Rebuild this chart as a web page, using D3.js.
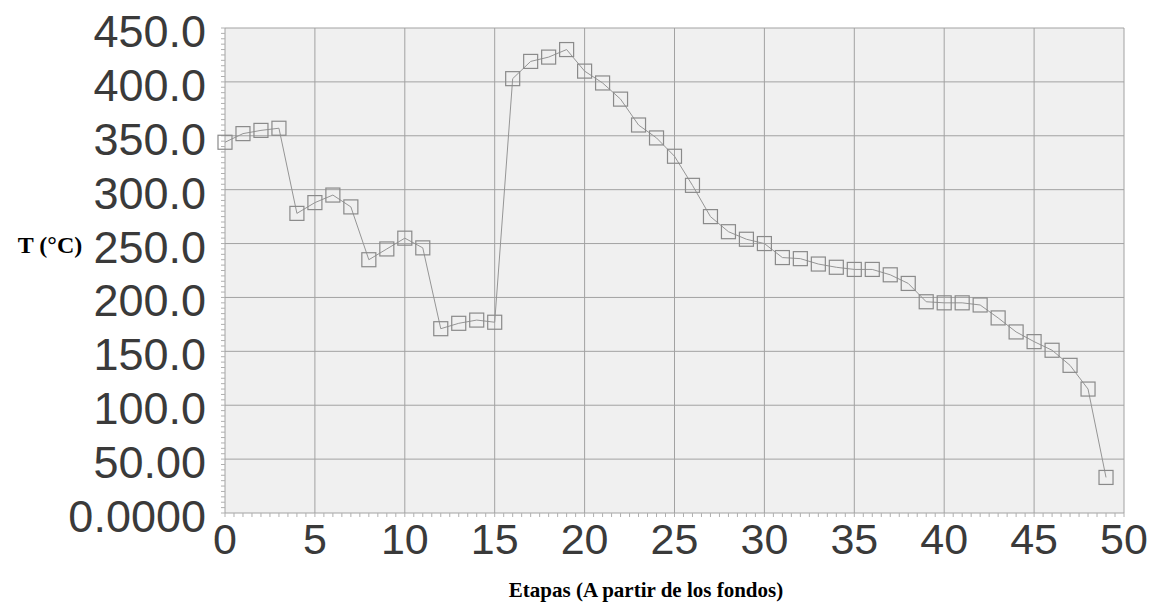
<!DOCTYPE html>
<html>
<head>
<meta charset="utf-8">
<script src="https://cdn.jsdelivr.net/npm/d3@7"></script>
<style>
  body { margin: 0; background: #fff; }
  svg { display: block; }
</style>
</head>
<body>
<div id="chart"></div>
<script>
// Temperature profile along the column stages
const stages = d3.range(0, 50);
const temps = [
  344, 352, 355, 357, 278, 288, 295, 284, 235, 245,
  255, 246, 171, 176, 179, 177, 403, 419, 423, 430,
  410, 399, 384, 360, 348, 331, 304, 275, 261, 254,
  250, 237, 236, 231, 228, 226, 226, 221, 213, 196,
  195, 195, 193, 181, 168, 159, 151, 137, 115, 33
];
const xTicks = [0, 5, 10, 15, 20, 25, 30, 35, 40, 45, 50];
const yTicks = [0, 50, 100, 150, 200, 250, 300, 350, 400, 450];
const yTickLabels = ["0.0000", "50.00", "100.0", "150.0", "200.0", "250.0", "300.0", "350.0", "400.0", "450.0"];

const width = 1156, height = 613;
const margin = { left: 225, right: 32, top: 28, bottom: 100 };
const innerW = width - margin.left - margin.right;
const innerH = height - margin.top - margin.bottom;

const svg = d3.select('#chart')
    .append('svg')
    .attr('width', width)
    .attr('height', height);

const x = d3.scaleLinear().domain([0, 50]).range([margin.left, margin.left + innerW]);
const y = d3.scaleLinear().domain([0, 450]).range([margin.top + innerH, margin.top]);

// plot background
svg.append('rect')
    .attr('x', x(0)).attr('y', y(450))
    .attr('width', innerW).attr('height', innerH)
    .attr('fill', '#f0f0f0');

// grid
const grid = svg.append('g').attr('stroke', '#a2a2a2').attr('stroke-width', 1);
grid.selectAll('line.v')
    .data(xTicks)
    .enter().append('line')
    .attr('x1', d => x(d)).attr('x2', d => x(d))
    .attr('y1', y(0)).attr('y2', y(450));
grid.selectAll('line.h')
    .data(yTicks)
    .enter().append('line')
    .attr('x1', x(0)).attr('x2', x(50))
    .attr('y1', d => y(d)).attr('y2', d => y(d));

// minor ticks
const minor = svg.append('g').attr('stroke', '#b0b0b0').attr('stroke-width', 1);
minor.selectAll('line.mx')
    .data(d3.range(0, 50.01, 0.5))
    .enter().append('line')
    .attr('x1', d => x(d)).attr('x2', d => x(d))
    .attr('y1', y(0)).attr('y2', y(0) + 4);
minor.selectAll('line.my')
    .data(d3.range(0, 450.01, 5))
    .enter().append('line')
    .attr('x1', x(0) - 4).attr('x2', x(0))
    .attr('y1', d => y(d)).attr('y2', d => y(d));

// tick labels
svg.append('g')
    .selectAll('text')
    .data(yTicks)
    .enter().append('text')
    .attr('x', 206)
    .attr('y', d => y(d) + 19)
    .attr('text-anchor', 'end')
    .style('font-family', '"Liberation Sans", Arial, sans-serif')
    .style('font-size', '45px')
    .style('fill', '#3a3a3a')
    .text((d, i) => yTickLabels[i]);

svg.append('g')
    .selectAll('text')
    .data(xTicks)
    .enter().append('text')
    .attr('x', d => x(d))
    .attr('y', y(0) + 41)
    .attr('text-anchor', 'middle')
    .style('font-family', '"Liberation Sans", Arial, sans-serif')
    .style('font-size', '43px')
    .style('fill', '#3a3a3a')
    .text(d => d);

// axis titles
svg.append('text')
    .attr('x', 50).attr('y', 253)
    .attr('text-anchor', 'middle')
    .style('font-family', '"Liberation Serif", "Times New Roman", serif')
    .style('font-weight', 'bold')
    .style('font-size', '24px')
    .text('T (°C)');

svg.append('text')
    .attr('x', 646).attr('y', 597)
    .attr('text-anchor', 'middle')
    .style('font-family', '"Liberation Serif", "Times New Roman", serif')
    .style('font-weight', 'bold')
    .style('font-size', '21px')
    .text('Etapas (A partir de los fondos)');

// series line
const points = stages.map((s, i) => ({ s: s, t: temps[i] }));
const line = d3.line()
    .x(d => x(d.s))
    .y(d => y(d.t));

svg.append('path')
    .datum(points)
    .attr('d', line)
    .attr('fill', 'none')
    .attr('stroke', '#959595')
    .attr('stroke-width', 1);

// square markers
const sz = 14;
svg.append('g')
    .selectAll('rect')
    .data(points)
    .enter().append('rect')
    .attr('x', d => x(d.s) - sz / 2)
    .attr('y', d => y(d.t) - sz / 2)
    .attr('width', sz).attr('height', sz)
    .attr('fill', 'none')
    .attr('stroke', '#8a8a8a')
    .attr('stroke-width', 1.2);
</script>
</body>
</html>
